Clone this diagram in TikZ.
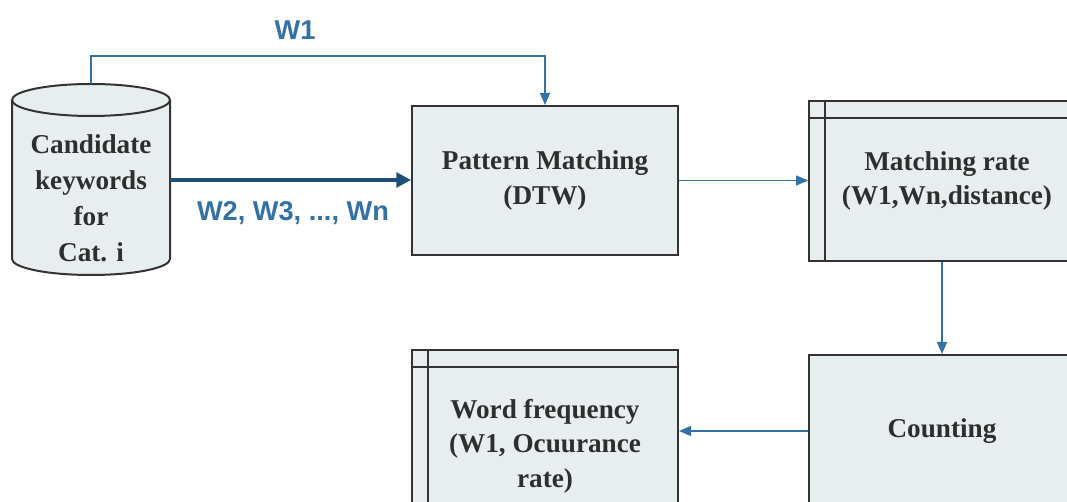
\documentclass[tikz,border=0pt]{standalone}
\usepackage{fontspec}
\setmainfont{Liberation Serif}
\setsansfont{Liberation Sans}
\usetikzlibrary{arrows.meta}
\definecolor{boxfill}{HTML}{E8EEF0}
\definecolor{boxline}{HTML}{333333}
\definecolor{boxtext}{HTML}{2E2E2E}
\definecolor{flowblue}{HTML}{3472A6}
\definecolor{flowdark}{HTML}{1F4E79}
\begin{document}
\begin{tikzpicture}[x=0.75pt, y=0.75pt,
        block/.style = {draw=boxline, line width=1.5pt, fill=boxfill, text=boxtext,
                        font=\fontsize{20.4}{26}\selectfont\bfseries, align=center,
                        inner sep=0pt},
        flow/.style = {draw=flowblue, line width=1pt, -{Triangle[length=9pt, width=7.5pt]}},
        bigflow/.style = {draw=flowdark, line width=3pt, -{Triangle[length=11pt, width=11pt]}},
        lbl/.style = {text=flowblue, font=\fontsize{20.4}{26}\selectfont\sffamily\bfseries}
    ]
    \useasboundingbox (0, 0) rectangle (1067, 502);
    \clip (0, 0) rectangle (1067, 502);

    % candidate keywords (database)
    \fill [boxfill] (12, 402) -- (12, 243) arc (180:360:79 and 16) -- (170, 402)
        arc (0:180:79 and 16);
    \draw [boxline, line width=1.5pt] (12, 402) -- (12, 243) arc (180:360:79 and 16)
        -- (170, 402);
    \draw [boxline, line width=1.5pt] (91, 402) ellipse (79 and 16);
    \node [align=center, text=boxtext, font=\fontsize{20.4}{27}\selectfont\bfseries]
        (db) at (91, 304) {Candidate\\keywords\\for\\Cat. i};
    \coordinate (dbtop) at (91, 418);
    \coordinate (dbright) at (170, 322);

    % processing blocks
    \node [block, minimum width=266pt*0.75, minimum height=149pt*0.75]
        (dtw) at (545, 321.5) {Pattern Matching\\(DTW)};
    \node [block, minimum width=276pt*0.75, minimum height=160pt*0.75]
        (rate) at (947, 321) {Matching rate\\(W1,Wn,distance)};
    \draw [boxline, line width=1.5pt] ([xshift=17pt*0.75]rate.north west)
        -- ([xshift=17pt*0.75]rate.south west);
    \draw [boxline, line width=1.5pt] ([yshift=-18pt*0.75]rate.north west)
        -- ([yshift=-18pt*0.75]rate.north east);
    \node [block, minimum width=266pt*0.75, minimum height=152pt*0.75]
        (cnt) at (942, 71) {Counting};
    \node [block, minimum width=266pt*0.75, minimum height=192pt*0.75]
        (freq) at (545, 56) {Word frequency\\(W1, Ocuurance\\rate)};
    \draw [boxline, line width=1.5pt] ([xshift=17pt*0.75]freq.north west)
        -- ([xshift=17pt*0.75]freq.south west);
    \draw [boxline, line width=1.5pt] ([yshift=-18pt*0.75]freq.north west)
        -- ([yshift=-18pt*0.75]freq.north east);

    % connectors
    \draw [flow] (dbtop) -- (91, 446) -| (dtw.north);
    \draw [bigflow] (dbright) -- (dbright -| dtw.west);
    \draw [flow] (dtw.east) -- (dtw.east -| rate.west);
    \draw [flow] (cnt.north |- rate.south) -- (cnt.north);
    \draw [flow] (cnt.west) -- (cnt.west -| freq.east);

    \node [lbl] (w1) at (295, 472) {W1};
    \node [lbl] (wn) at (293, 289) {W2, W3, ..., Wn};
\end{tikzpicture}
\end{document}
